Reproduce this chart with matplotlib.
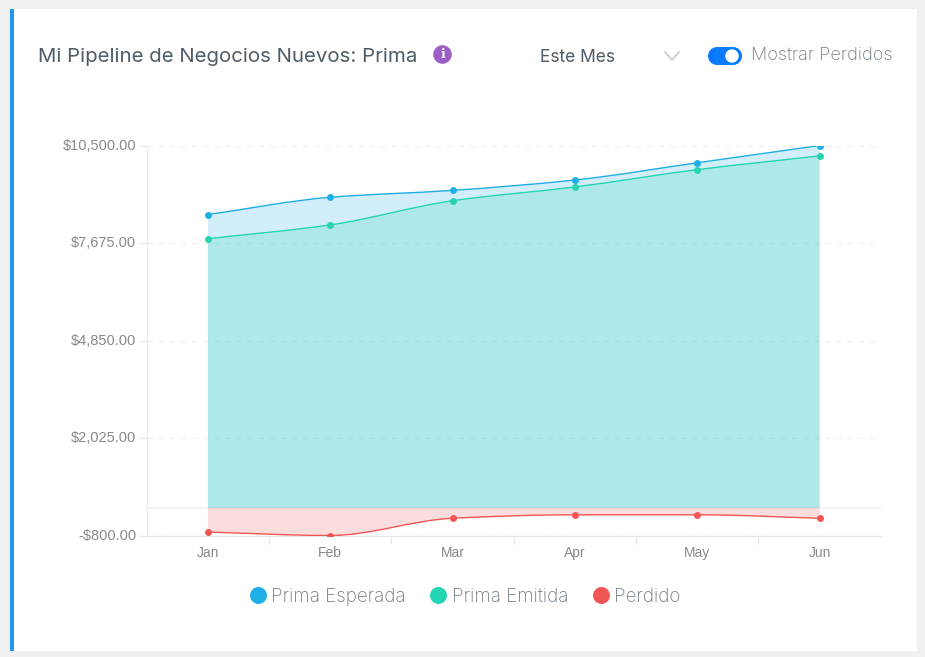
#!/usr/bin/env python3
"""Mi Pipeline de Negocios Nuevos: Prima - area chart inside a dashboard card"""

import numpy as np
import matplotlib
matplotlib.use("Agg")
import matplotlib.pyplot as plt
from matplotlib.lines import Line2D
from matplotlib.patches import Circle, PathPatch, Rectangle
from matplotlib.path import Path
from matplotlib.transforms import ScaledTranslation

# Data
MESES = ["Jan", "Feb", "Mar", "Apr", "May", "Jun"]
PRIMA_ESPERADA = [8500, 9000, 9200, 9500, 10000, 10500]
PRIMA_EMITIDA = [7800, 8200, 8900, 9300, 9800, 10200]
PERDIDO = [-700, -800, -300, -200, -200, -300]
Y_TICKS = [-800, 2025, 4850, 7675, 10500]
Y_LABELS = ["-$800.00", "$2,025.00", "$4,850.00", "$7,675.00", "$10,500.00"]

# Colours
AZUL = "#20AEE6"
VERDE = "#25D4B2"
ROJO = "#F25555"
GRIS_TICK = "#858a8f"
GRIS_TEXTO = "#4f5b66"
GRIS_SUAVE = "#6f7c87"
LINEA = "#f0f0f0"

FONT_UI = "Inter"
FONT_EJES = "Liberation Sans"
W, H = 925, 657


def curva(x, y):
    """Vertices and codes of a monotone cubic curve through the points"""
    x = np.asarray(x, dtype=float)
    y = np.asarray(y, dtype=float)
    d = np.diff(y) / np.diff(x)
    m = np.zeros_like(y)
    m[0], m[-1] = d[0], d[-1]
    for i in range(1, len(y) - 1):
        if d[i - 1] * d[i] > 0:
            m[i] = 2 * d[i - 1] * d[i] / (d[i - 1] + d[i])
    verts = [(x[0], y[0])]
    codes = [Path.MOVETO]
    for i in range(len(x) - 1):
        h = (x[i + 1] - x[i]) / 3
        verts += [(x[i] + h, y[i] + m[i] * h),
                  (x[i + 1] - h, y[i + 1] - m[i + 1] * h),
                  (x[i + 1], y[i + 1])]
        codes += [Path.CURVE4] * 3
    return verts, codes


def serie(ax, x, y, color, z):
    verts, codes = curva(x, y)
    # Area down to zero
    area_v = verts + [(x[-1], 0), (x[0], 0), (x[0], 0)]
    area_c = codes + [Path.LINETO, Path.LINETO, Path.CLOSEPOLY]
    ax.add_patch(PathPatch(Path(area_v, area_c), facecolor=color, alpha=0.2,
                           edgecolor="none", zorder=z))
    ax.add_patch(PathPatch(Path(verts, codes), facecolor="none", edgecolor=color,
                           linewidth=1.0, zorder=z + 1))
    ax.plot(x, y, linestyle="none", marker="o", markersize=5, color=color,
            markeredgewidth=0, zorder=z + 2)


fig = plt.figure(figsize=(W / 100, H / 100), dpi=100, facecolor="#f0f0f0")

# Card and widgets, drawn in pixel coordinates
ui = fig.add_axes([0, 0, 1, 1], zorder=0)
ui.set_xlim(0, W)
ui.set_ylim(H, 0)
ui.axis("off")
ui.add_patch(Rectangle((10, 9), 907, 642, facecolor="white", edgecolor="none"))
ui.add_patch(Rectangle((10, 9), 4, 642, facecolor="#2196F3", edgecolor="none"))

ui.text(38.5, 57, "Mi Pipeline de Negocios Nuevos: Prima", fontsize=14.7,
        family=FONT_UI, color=GRIS_TEXTO, va="center", ha="left")
ui.add_patch(Circle((442.5, 54.5), 9.3, facecolor="#9C5FC6", edgecolor="none"))
ui.text(442.5, 54.8, "i", fontsize=9, family="DejaVu Serif", weight="bold",
        color="white", va="center", ha="center")

ui.text(539.5, 57.5, "Este Mes", fontsize=12.5, family=FONT_UI, color=GRIS_TEXTO,
        va="center", ha="left")
ui.plot([665, 672, 679], [52, 60, 52], color="#c6cad2", linewidth=1.1)

ui.add_patch(Rectangle((717, 47), 16, 18, facecolor="#0A7BFF", edgecolor="none"))
ui.add_patch(Circle((717, 56), 9, facecolor="#0A7BFF", edgecolor="none"))
ui.add_patch(Circle((733, 56), 9, facecolor="#0A7BFF", edgecolor="none"))
ui.add_patch(Circle((732, 56), 6.7, facecolor="white", edgecolor="none"))
ui.text(751, 55.5, "Mostrar Perdidos", fontsize=13, family=FONT_UI, weight="light",
        color=GRIS_SUAVE, va="center", ha="left")

# Chart
ax = fig.add_axes([146.8 / W, (H - 535.5) / H, 734 / W, 390 / H], zorder=1)
ax.patch.set_alpha(0)
x = np.arange(len(MESES))

serie(ax, x, PRIMA_ESPERADA, AZUL, 3)
serie(ax, x, PRIMA_EMITIDA, VERDE, 6)
serie(ax, x, PERDIDO, ROJO, 9)

ax.set_xlim(-0.5, 5.5)
ax.set_ylim(-800, 10500)
ax.set_xticks(x)
ax.set_xticklabels(MESES)
ax.set_xticks(x[:-1] + 0.5, minor=True)
ax.set_yticks(Y_TICKS)
ax.set_yticklabels(Y_LABELS)

ax.tick_params(axis="x", which="major", length=0, pad=7.5, labelsize=10, labelcolor=GRIS_TICK)
ax.tick_params(axis="x", which="minor", length=5.5, width=1, color="#e8e8e8")
ax.tick_params(axis="y", length=6, width=1, color="#e8e8e8", pad=1.5, labelsize=10.5,
               labelcolor=GRIS_TICK)
# Y labels sit a little above their gridline
sube = ScaledTranslation(0, 0.75 / 72, fig.dpi_scale_trans)
for lab in ax.get_yticklabels():
    lab.set_family(FONT_EJES)
    lab.set_transform(lab.get_transform() + sube)
for lab in ax.get_xticklabels():
    lab.set_family(FONT_EJES)

ax.grid(axis="y", color=LINEA, linestyle=(0, (4, 4)), linewidth=1.0, zorder=1)
ax.axhline(0, color="#f2f2f2", linewidth=1.4, zorder=2)
for lado in ["top", "right"]:
    ax.spines[lado].set_visible(False)
ax.spines["left"].set_color("#ececec")
ax.spines["bottom"].set_color("#e6e6e6")

handles = [Line2D([], [], linestyle="none", marker="o", markersize=12.2, color=c,
                  markeredgewidth=0) for c in (AZUL, VERDE, ROJO)]
leg = fig.legend(handles, ["Prima Esperada", "Prima Emitida", "Perdido"], ncol=3,
                 loc="center", bbox_to_anchor=(463 / W, (H - 596.5) / H), frameon=False,
                 prop={"family": FONT_UI, "size": 13.5, "weight": "light"},
                 handletextpad=0.05, columnspacing=1.1, handlelength=1.3)
for t in leg.get_texts():
    t.set_color(GRIS_SUAVE)

fig.savefig("out.png", dpi=100, facecolor=fig.get_facecolor())
